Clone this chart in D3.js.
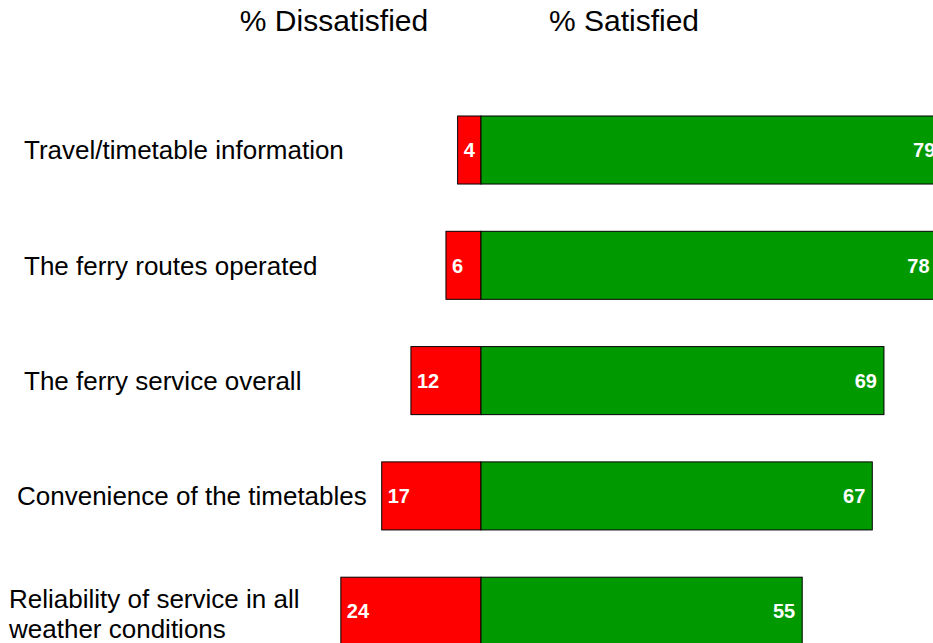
<!DOCTYPE html>
<html>
<head>
<meta charset="utf-8">
<script src="https://cdn.jsdelivr.net/npm/d3@7"></script>
<style>
  html, body { margin: 0; padding: 0; background: #fff; overflow: hidden; }
  svg { display: block; font-family: "Liberation Sans", Arial, sans-serif; }
</style>
</head>
<body>
<svg id="chart" width="933" height="643"></svg>
<script>
const categories = [
  ["Travel/timetable information"],
  ["The ferry routes operated"],
  ["The ferry service overall"],
  ["Convenience of the timetables"],
  ["Reliability of service in all", "weather conditions"]
];
const dissatisfied = [4, 6, 12, 17, 24];
const satisfied = [79, 78, 69, 67, 55];
const headers = ["% Dissatisfied", "% Satisfied"];

// layout (not data)
const labelX = [24, 24, 24, 17, 9];
const W = 933, H = 643;
const pxPerUnit = 5.84, center = 481;

const svg = d3.select("#chart");

const x = d3.scaleLinear()
  .domain([-30, 80])
  .range([center - 30 * pxPerUnit, center + 80 * pxPerUnit]);

const y = d3.scaleBand()
  .domain(d3.range(categories.length))
  .range([116, 116 + 115.3 * (categories.length - 0.41)])
  .paddingInner(0.41)
  .paddingOuter(0);

const rows = svg.selectAll("g.row")
  .data(categories.map((c, i) => ({ c, i, d: dissatisfied[i], s: satisfied[i] })))
  .join("g").attr("class", "row");

// dissatisfied bars
rows.append("rect")
  .attr("x", r => x(-r.d))
  .attr("y", r => y(r.i))
  .attr("width", r => x(0) - x(-r.d))
  .attr("height", y.bandwidth())
  .attr("fill", "#ff0000")
  .attr("stroke", "#000")
  .attr("stroke-width", 1);

// satisfied bars
rows.append("rect")
  .attr("x", x(0))
  .attr("y", r => y(r.i))
  .attr("width", r => x(r.s) - x(0))
  .attr("height", y.bandwidth())
  .attr("fill", "#009900")
  .attr("stroke", "#000")
  .attr("stroke-width", 1);

// value labels
rows.append("text")
  .attr("x", r => x(-r.d) + 6)
  .attr("y", r => y(r.i) + y.bandwidth() / 2)
  .attr("dy", "0.36em")
  .attr("fill", "#fff")
  .attr("font-weight", "bold")
  .attr("font-size", 20)
  .text(r => r.d);

rows.append("text")
  .attr("x", r => x(r.s) - 7)
  .attr("y", r => y(r.i) + y.bandwidth() / 2)
  .attr("dy", "0.36em")
  .attr("text-anchor", "end")
  .attr("fill", "#fff")
  .attr("font-weight", "bold")
  .attr("font-size", 20)
  .text(r => r.s);

// category labels
rows.each(function(r) {
  const g = d3.select(this);
  const n = r.c.length;
  const lh = 30;
  const mid = y(r.i) + y.bandwidth() / 2 + (n > 1 ? 2 : 0);
  r.c.forEach((line, k) => {
    g.append("text")
      .attr("x", labelX[r.i])
      .attr("y", mid + (k - (n - 1) / 2) * lh)
      .attr("dy", "0.36em")
      .attr("font-size", 26)
      .attr("fill", "#000")
      .text(line);
  });
});

// headers
svg.append("text")
  .attr("x", 334).attr("y", 31)
  .attr("text-anchor", "middle")
  .attr("font-size", 30)
  .text(headers[0]);
svg.append("text")
  .attr("x", 624).attr("y", 31)
  .attr("text-anchor", "middle")
  .attr("font-size", 30)
  .text(headers[1]);
</script>
</body>
</html>
